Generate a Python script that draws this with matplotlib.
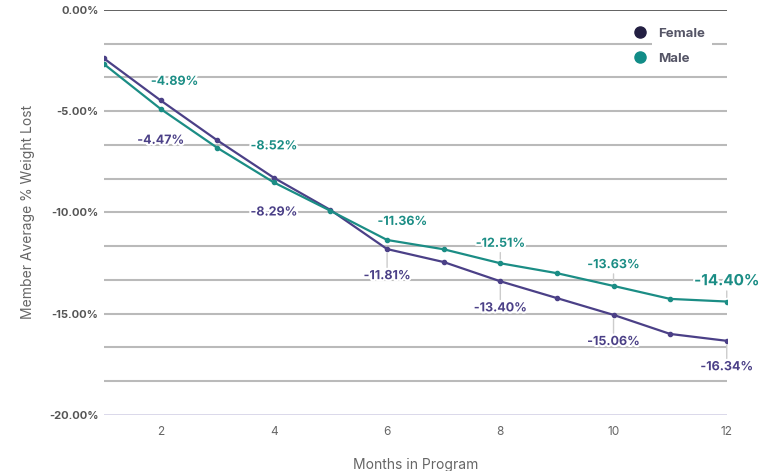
import numpy as np
import matplotlib
matplotlib.use("Agg")
import matplotlib.pyplot as plt
import matplotlib.patheffects as pe
from matplotlib.ticker import FuncFormatter, MultipleLocator

plt.rcParams['font.family'] = ['Inter', 'DejaVu Sans']

# Data
months = [1, 2, 3, 4, 5, 6, 7, 8, 9, 10, 11, 12]
female = [-2.40, -4.47, -6.44, -8.29, -9.88, -11.81, -12.45, -13.40, -14.23, -15.06, -16.00, -16.34]
male = [-2.68, -4.89, -6.81, -8.52, -9.92, -11.36, -11.82, -12.51, -13.00, -13.63, -14.27, -14.40]
label_months = [2, 4, 6, 8, 10, 12]

female_col = '#4b4087'
male_col = '#1b8d85'

fig = plt.figure(figsize=(7.65, 4.71), dpi=100)
ax = fig.add_axes([0.136, 0.119, 0.814, 0.860])

# horizontal grid lines every 5/3 %
for gy in np.arange(0, -20.01, -5 / 3):
    if abs(gy) < 1e-6:
        ax.axhline(gy, color='#555555', lw=1.3, zorder=0)
    elif abs(gy + 20) < 1e-6:
        ax.axhline(gy, color='#d4d2e6', lw=1.2, zorder=0)
    else:
        ax.axhline(gy, color='#bababa', lw=1.5, zorder=0)

ax.plot(months, female, color=female_col, lw=1.6, marker='o', ms=3, zorder=3, label='Female')
ax.plot(months, male, color=male_col, lw=1.6, marker='o', ms=3, zorder=3, label='Male')

ax.set_xlim(1, 12)
ax.set_ylim(-20, 0)
ax.xaxis.set_major_locator(MultipleLocator(2))
ax.yaxis.set_major_locator(MultipleLocator(5))
ax.yaxis.set_major_formatter(FuncFormatter(lambda v, p: '%.2f%%' % v))
ax.tick_params(axis='y', length=0, pad=4, labelsize=8, labelcolor='#555555')
ax.tick_params(axis='x', length=0, pad=8, labelsize=8.5, labelcolor='#666666')
for t in ax.get_yticklabels():
    t.set_fontweight('bold')
for s in ax.spines.values():
    s.set_visible(False)

ax.set_xlabel('Months in Program', fontsize=10, color='#666666', labelpad=14)
ax.set_ylabel('Member Average % Weight Lost', fontsize=10, color='#666666', labelpad=10)

halo = [pe.withStroke(linewidth=3, foreground='white')]

# label offsets in points, and whether a leader line is drawn
male_off = {2: (10, 19.5), 4: (0, 26), 6: (11, 13), 8: (0, 14), 10: (0, 15), 12: (0, 15)}
female_off = {2: (0, -29), 4: (0, -25), 6: (0, -19.5), 8: (0, -19.5), 10: (0, -19.5), 12: (0, -19)}
male_leader = {2: False, 4: False, 6: False, 8: True, 10: True, 12: True}
female_leader = {2: False, 4: False, 6: True, 8: True, 10: True, 12: True}

for m in label_months:
    i = months.index(m)
    fs = 11 if m == 12 else 9
    arr = dict(arrowstyle='-', color='#cccccc', lw=1, shrinkA=0, shrinkB=3)
    ax.annotate('%.2f%%' % male[i], (m, male[i]), xytext=male_off[m], textcoords='offset points',
                ha='center', va='center', fontsize=fs, fontweight='bold', color=male_col,
                path_effects=halo, zorder=5,
                arrowprops=arr if male_leader[m] else None)
    ax.annotate('%.2f%%' % female[i], (m, female[i]), xytext=female_off[m], textcoords='offset points',
                ha='center', va='center', fontsize=9, fontweight='bold', color=female_col,
                path_effects=halo, zorder=5,
                arrowprops=arr if female_leader[m] else None)

h1 = plt.Line2D([], [], color='#231f42', marker='o', ls='', ms=8)
h2 = plt.Line2D([], [], color='#118c87', marker='o', ls='', ms=8)
leg = ax.legend([h1, h2], ['Female', 'Male'], loc='upper right', bbox_to_anchor=(0.982, 0.982),
                frameon=False, handletextpad=0.4, labelspacing=0.95, borderpad=0.3,
                prop={'weight': 'bold', 'size': 9.5})
for t in leg.get_texts():
    t.set_color('#555566')
    t.set_bbox(dict(facecolor='white', edgecolor='none', boxstyle='square,pad=0.5'))

fig.savefig('out.png', dpi=100)
